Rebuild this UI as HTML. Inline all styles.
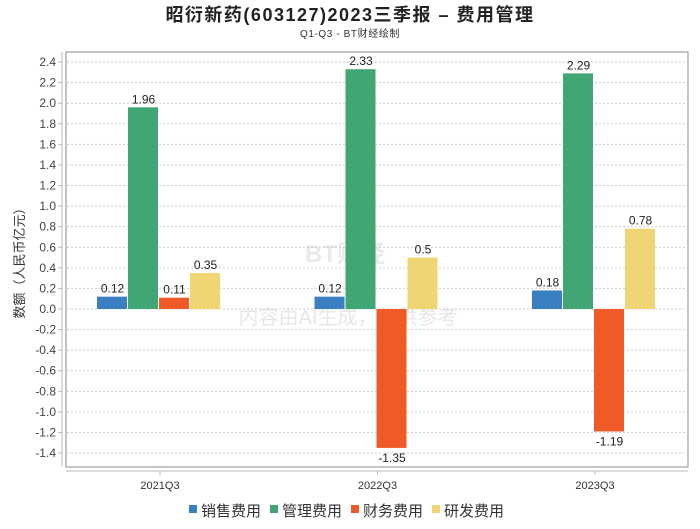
<!DOCTYPE html>
<html><head><meta charset="utf-8"><style>
body{margin:0;background:#fff;font-family:"Liberation Sans","Noto Sans CJK SC",sans-serif}
svg text{font-family:"Liberation Sans","Noto Sans CJK SC",sans-serif}
</style></head><body>
<svg width="700" height="524" xmlns="http://www.w3.org/2000/svg">
<text x="350" y="21" text-anchor="middle" font-size="18" font-weight="bold" letter-spacing="1.5" fill="#222">昭衍新药(603127)2023三季报 – 费用管理</text>
<text x="350" y="37" text-anchor="middle" font-size="10" letter-spacing="0.6" fill="#333">Q1-Q3 - BT财经绘制</text>
<rect x="66" y="52" width="622" height="415" fill="none" stroke="#888" stroke-width="1"/>
<line x1="62" y1="52" x2="62" y2="467" stroke="#bbb"/>
<line x1="66" y1="471" x2="688" y2="471" stroke="#bbb"/>
<text transform="translate(24,260) rotate(-90)" text-anchor="middle" font-size="13" fill="#333">数额（人民币亿元）</text>
<text x="348" y="324" text-anchor="middle" font-size="20" fill="#ddd" opacity="0.7">内容由AI生成，仅供参考</text>
<text x="345" y="262" text-anchor="middle" font-size="24" fill="#ddd" opacity="0.6" font-weight="bold">BT财经</text>
<g id="grid"></g><g id="bars"></g><g id="legend"></g>
<script>
const categories=["2021Q3","2022Q3","2023Q3"];
const seriesNames=["销售费用","管理费用","财务费用","研发费用"];
const colors=["#3a7fc1","#41a673","#f05a28","#efd574"];
const sales=[0.12,0.12,0.18];
const admin=[1.96,2.33,2.29];
const finance=[0.11,-1.35,-1.19];
const rnd=[0.35,0.5,0.78];
const yTicks=[2.4,2.2,2.0,1.8,1.6,1.4,1.2,1.0,0.8,0.6,0.4,0.2,0.0,-0.2,-0.4,-0.6,-0.8,-1.0,-1.2,-1.4];
const series=[sales,admin,finance,rnd];
const NS="http://www.w3.org/2000/svg";
function y(v){return 309-v*102.9;}
function x(i){return 160+i*217.5;}
const grid=document.getElementById('grid');
yTicks.forEach(t=>{
 const l=document.createElementNS(NS,'line');
 l.setAttribute('x1',67);l.setAttribute('x2',687);l.setAttribute('y1',y(t));l.setAttribute('y2',y(t));
 l.setAttribute('stroke','#ccc');l.setAttribute('stroke-dasharray','2,2');
 
 
 grid.appendChild(l);
 const tk=document.createElementNS(NS,'line');
 tk.setAttribute('x1',58);tk.setAttribute('x2',62);tk.setAttribute('y1',y(t));tk.setAttribute('y2',y(t));tk.setAttribute('stroke','#bbb');
 grid.appendChild(tk);
 const tx=document.createElementNS(NS,'text');
 tx.setAttribute('x',56);tx.setAttribute('y',y(t)+4);tx.setAttribute('text-anchor','end');tx.setAttribute('font-size','12');tx.setAttribute('fill','#444');
 tx.textContent=t.toFixed(1);
 
 
 grid.appendChild(tx);
});
categories.forEach((c,i)=>{
 const tx=document.createElementNS(NS,'text');
 tx.setAttribute('x',x(i));tx.setAttribute('y',489);tx.setAttribute('text-anchor','middle');tx.setAttribute('font-size','11');tx.setAttribute('fill','#333');
 tx.textContent=c;
 
 
 grid.appendChild(tx);
 const tk=document.createElementNS(NS,'line');
 tk.setAttribute('x1',x(i));tk.setAttribute('x2',x(i));tk.setAttribute('y1',471);tk.setAttribute('y2',475);tk.setAttribute('stroke','#bbb');
 grid.appendChild(tk);
});
const bars=document.getElementById('bars');
const bw=31;
series.forEach((s,si)=>{
 s.forEach((v,i)=>{
  const bx=x(i)-63+si*bw;
  const r=document.createElementNS(NS,'rect');
  r.setAttribute('x',bx);r.setAttribute('width',bw-1);
  r.setAttribute('y',Math.min(y(v),y(0)));r.setAttribute('height',Math.abs(y(v)-y(0)));
  r.setAttribute('fill',colors[si]);
  
  
  bars.appendChild(r);
  const t=document.createElementNS(NS,'text');
  t.setAttribute('x',bx+bw/2);t.setAttribute('y',v>=0?y(v)-4:y(v)+14);
  t.setAttribute('text-anchor','middle');t.setAttribute('font-size','12');t.setAttribute('fill','#222');
  t.textContent=String(v);
  
  
  bars.appendChild(t);
 });
});
const lg=document.getElementById('legend');
let lx=189;
seriesNames.forEach((n,i)=>{
 const g=document.createElementNS(NS,'g');
 
 
 const r=document.createElementNS(NS,'rect');
 r.setAttribute('x',lx);r.setAttribute('y',505);r.setAttribute('width',8);r.setAttribute('height',8);r.setAttribute('fill',colors[i]);
 g.appendChild(r);
 const t=document.createElementNS(NS,'text');
 t.setAttribute('x',lx+12);t.setAttribute('y',516);t.setAttribute('font-size','15');t.setAttribute('fill','#333');
 t.textContent=n;
 g.appendChild(t);
 lg.appendChild(g);
 lx+=81;
});
</script>
</svg>
</body></html>
